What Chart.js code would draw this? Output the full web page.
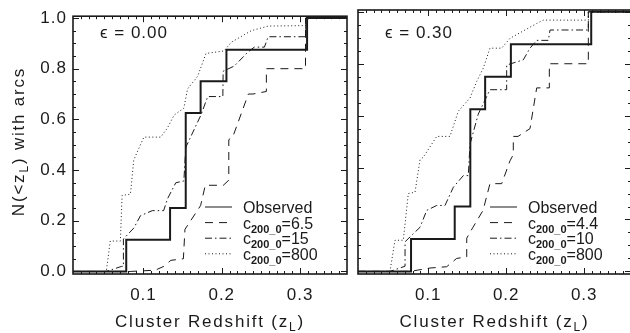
<!DOCTYPE html>
<html>
<head>
<meta charset="utf-8">
<script src="https://cdn.jsdelivr.net/npm/chart.js@4.4.1/dist/chart.umd.min.js"></script>
<style>
  html, body { margin: 0; padding: 0; background: #fff; width: 630px; height: 333px; overflow: hidden; }
  canvas { position: absolute; top: 0; }
  #left { left: 0; }
  #right { left: 350px; }
</style>
</head>
<body>
<canvas id="left" width="350" height="333"></canvas>
<canvas id="right" width="290" height="333"></canvas>
<script>
// axis ticks
const Y_TICKS = [0, 0.2, 0.4, 0.6, 0.8, 1.0];
const Y_LABELS = ['0.0', '0.2', '0.4', '0.6', '0.8', '1.0'];
const X_TICKS = [0.1, 0.2, 0.3];
const X_LABELS = ['0.1', '0.2', '0.3'];

// observed sample (same in both panels)
const OBS_Z = [0.01, 0.078, 0.134, 0.154, 0.173, 0.206, 0.309, 0.36];
const OBS_N = [0, 0.125, 0.25, 0.625, 0.75, 0.875, 1.0, 1.0];

// epsilon = 0.00 panel
const EPS_A = '0.00';
const C_A = ['6.5', '15', '800'];
const A_DASH_Z = [0.01, 0.083, 0.115, 0.126, 0.135, 0.151, 0.153, 0.173, 0.179, 0.202, 0.209, 0.209, 0.214, 0.234, 0.240, 0.257, 0.257, 0.307, 0.307, 0.36];
const A_DASH_N = [0, 0, 0.005, 0.02, 0.044, 0.05, 0.166, 0.26, 0.34, 0.34, 0.36, 0.52, 0.53, 0.70, 0.70, 0.71, 0.80, 0.80, 1.0, 1.0];
const A_DDOT_Z = [0.01, 0.0525, 0.072, 0.0744, 0.0744, 0.0876, 0.0962, 0.1113, 0.1258, 0.1306, 0.1413, 0.1516, 0.1541, 0.1734, 0.1821, 0.2014, 0.2018, 0.2159, 0.2336, 0.2417, 0.2545, 0.2593, 0.3073, 0.3073, 0.36];
const A_DDOT_N = [0, 0, 0.02, 0.02, 0.128, 0.171, 0.22, 0.24, 0.24, 0.286, 0.35, 0.357, 0.49, 0.617, 0.69, 0.69, 0.79, 0.81, 0.866, 0.885, 0.885, 0.926, 0.926, 1.0, 1.0];
const A_DOT_Z = [0.01, 0.0525, 0.0576, 0.0705, 0.0727, 0.0834, 0.0876, 0.1005, 0.122, 0.1306, 0.1391, 0.1516, 0.1563, 0.1692, 0.1799, 0.2031, 0.2121, 0.2378, 0.2593, 0.3073, 0.3073, 0.36];
const A_DOT_N = [0, 0, 0.12, 0.12, 0.30, 0.305, 0.44, 0.53, 0.53, 0.566, 0.617, 0.644, 0.72, 0.77, 0.86, 0.87, 0.904, 0.95, 0.968, 0.97, 1.0, 1.0];

// epsilon = 0.30 panel
const EPS_B = '0.30';
const C_B = ['4.4', '10', '800'];
const B_DASH_Z = [0.01, 0.0767, 0.1023, 0.1237, 0.1365, 0.1494, 0.1494, 0.1574, 0.1703, 0.1792, 0.1942, 0.2049, 0.2091, 0.2091, 0.2151, 0.2305, 0.2391, 0.2497, 0.2553, 0.2553, 0.3053, 0.3053, 0.36];
const B_DASH_N = [0, 0, 0.013, 0.018, 0.05, 0.056, 0.128, 0.17, 0.235, 0.338, 0.338, 0.426, 0.45, 0.52, 0.52, 0.55, 0.707, 0.707, 0.707, 0.80, 0.80, 1.0, 1.0];
const B_DDOT_Z = [0.01, 0.051, 0.0703, 0.0703, 0.0895, 0.0981, 0.1109, 0.1215, 0.1322, 0.145, 0.1514, 0.1536, 0.1642, 0.1792, 0.2006, 0.2006, 0.2219, 0.2305, 0.2391, 0.2540, 0.2562, 0.3053, 0.3053, 0.36];
const B_DDOT_N = [0, 0, 0.02, 0.114, 0.17, 0.235, 0.254, 0.254, 0.324, 0.369, 0.369, 0.49, 0.606, 0.70, 0.70, 0.795, 0.815, 0.86, 0.89, 0.89, 0.93, 0.93, 1.0, 1.0];
const B_DOT_Z = [0.01, 0.051, 0.0574, 0.0681, 0.0745, 0.0831, 0.0895, 0.0937, 0.1109, 0.1279, 0.1386, 0.1536, 0.1622, 0.1706, 0.1792, 0.1942, 0.2049, 0.2391, 0.2476, 0.3053, 0.3053, 0.36];
const B_DOT_N = [0, 0, 0.12, 0.12, 0.30, 0.305, 0.43, 0.44, 0.52, 0.52, 0.617, 0.668, 0.732, 0.783, 0.86, 0.86, 0.898, 0.955, 0.968, 0.968, 1.0, 1.0];

const INK = '#1a1a1a';
const FONT = '"Liberation Sans", Arial, sans-serif';

const pts = (zs, ns) => zs.map((z, i) => ({ x: z, y: ns[i] }));

// draw a run of text pieces, some of them as subscripts
function drawRich(ctx, parts, x, y, o) {
  ctx.save();
  ctx.letterSpacing = o.spacing || '0px';
  ctx.fillStyle = INK;
  ctx.textBaseline = 'alphabetic';
  ctx.textAlign = 'left';
  let w = 0;
  parts.forEach(([t, sub]) => { ctx.font = sub ? o.subFont : o.font; w += ctx.measureText(t).width; });
  let cx = o.center ? x - w / 2 : x;
  parts.forEach(([t, sub]) => {
    ctx.font = sub ? o.subFont : o.font;
    ctx.fillText(t, cx, sub ? y + o.subDy : y);
    cx += ctx.measureText(t).width;
  });
  ctx.restore();
}

const panelPlugin = {
  id: 'panel',
  beforeDraw(chart) {
    chart.ctx.letterSpacing = '1px';
  },
  afterDatasetsDraw(chart, args, opts) {
    const { ctx, chartArea: a, scales: { x, y } } = chart;
    ctx.save();
    ctx.letterSpacing = '0px';
    ctx.strokeStyle = INK;
    ctx.lineWidth = 1;
    ctx.beginPath();
    // inward ticks on all four sides
    for (let i = 2; i <= 35; i++) {
      const px = Math.round(x.getPixelForValue(i / 100)) + 0.5;
      const len = i % 10 === 0 ? 6 : 3;
      ctx.moveTo(px, a.bottom); ctx.lineTo(px, a.bottom - len);
      ctx.moveTo(px, a.top); ctx.lineTo(px, a.top + len);
    }
    for (let i = 0; i <= 20; i++) {
      const py = Math.round(y.getPixelForValue(i / 20)) + 0.5;
      const len = i % 4 === 0 ? 6 : 3;
      ctx.moveTo(a.left, py); ctx.lineTo(a.left + len, py);
      ctx.moveTo(a.right, py); ctx.lineTo(a.right - len, py);
    }
    ctx.stroke();
    ctx.lineWidth = 1.6;
    ctx.strokeRect(a.left, a.top, a.right - a.left, a.bottom - a.top);
    ctx.restore();

    // legend
    const main = { font: '16px ' + FONT, subFont: 'bold 11px ' + FONT, subDy: 4 };
    chart.data.datasets.forEach((ds, i) => {
      const yy = 207 + i * 15.6;
      ctx.save();
      ctx.strokeStyle = INK;
      ctx.lineWidth = 1;
      ctx.setLineDash(ds.borderDash || []);
      ctx.beginPath();
      ctx.moveTo(a.left + 132, yy);
      ctx.lineTo(a.left + 159, yy);
      ctx.stroke();
      ctx.restore();
      const parts = i === 0 ? [['Observed']] : [['c'], ['200_0', true], ['=' + opts.conc[i - 1]]];
      drawRich(ctx, parts, a.left + 170, yy + 6, main);
    });

    // epsilon label
    drawRich(ctx, [['\u03f5 = ' + opts.eps]], a.left + 27, 38,
      { font: '17px ' + FONT, spacing: '1px' });

    // axis titles
    const title = { font: '17px ' + FONT, subFont: '12px ' + FONT, subDy: 4, spacing: '1.8px', center: true };
    drawRich(ctx, [['Cluster Redshift (z'], ['L', true], [')']], (a.left + a.right) / 2, 327, title);
    if (opts.yTitle) {
      ctx.save();
      ctx.translate(18, 141.5);
      ctx.rotate(-Math.PI / 2);
      drawRich(ctx, [['N(<z'], ['L', true], [') with arcs']], 0, 6, title);
      ctx.restore();
    }
  }
};

function makePanel(id, series, conc, eps, showY) {
  const styles = [
    { borderWidth: 2, borderDash: [], stepped: true },
    { borderWidth: 1, borderDash: [8, 6] },
    { borderWidth: 1, borderDash: [7, 3, 1.5, 3] },
    { borderWidth: 1, borderDash: [1, 2.5] }
  ];
  const labels = ['Observed'].concat(conc.map(c => 'c200_0=' + c));
  return new Chart(document.getElementById(id), {
    type: 'line',
    data: {
      datasets: series.map((s, i) => ({
        label: labels[i],
        data: pts(s[0], s[1]),
        borderColor: INK,
        pointRadius: 0,
        fill: false,
        tension: 0,
        ...styles[i]
      }))
    },
    options: {
      responsive: false,
      animation: false,
      events: [],
      layout: { padding: { top: 10, bottom: 0, left: 0, right: showY ? 3 : 9 } },
      plugins: {
        legend: { display: false },
        tooltip: { enabled: false },
        panel: { conc, eps, yTitle: showY }
      },
      scales: {
        x: {
          type: 'linear', min: 0.01, max: 0.36,
          grid: { display: false, drawTicks: false },
          border: { display: false },
          afterBuildTicks: s => { s.ticks = X_TICKS.map(v => ({ value: v })); },
          afterFit: s => { s.height = 59; },
          ticks: {
            autoSkip: false, maxRotation: 0, padding: 11, color: INK,
            font: { family: FONT, size: 17 },
            callback: (v, i) => X_LABELS[i]
          }
        },
        y: {
          type: 'linear', min: -0.01, max: 1.007,
          grid: { display: false, drawTicks: false },
          border: { display: false },
          afterBuildTicks: s => { s.ticks = Y_TICKS.map(v => ({ value: v })); },
          afterFit: s => { s.width = showY ? 73 : 8; },
          ticks: {
            display: showY, padding: 6, color: INK,
            font: { family: FONT, size: 17 },
            callback: (v, i) => Y_LABELS[i]
          }
        }
      }
    },
    plugins: [panelPlugin]
  });
}

makePanel('left', [[OBS_Z, OBS_N], [A_DASH_Z, A_DASH_N], [A_DDOT_Z, A_DDOT_N], [A_DOT_Z, A_DOT_N]], C_A, EPS_A, true);
makePanel('right', [[OBS_Z, OBS_N], [B_DASH_Z, B_DASH_N], [B_DDOT_Z, B_DDOT_N], [B_DOT_Z, B_DOT_N]], C_B, EPS_B, false);
</script>
</body>
</html>
